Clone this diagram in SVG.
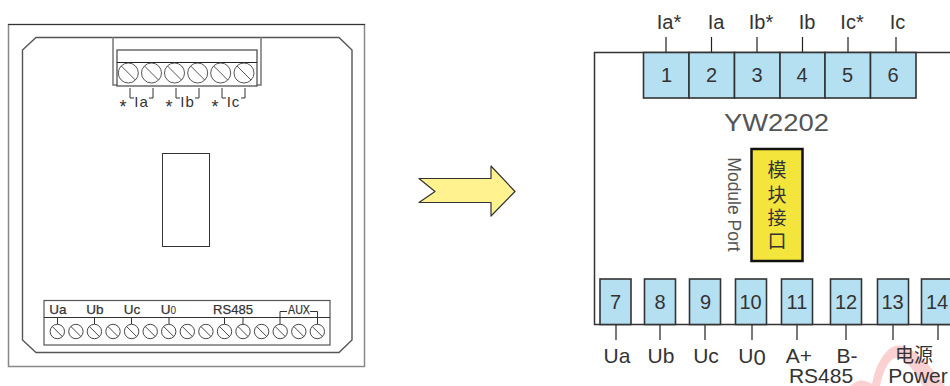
<svg xmlns="http://www.w3.org/2000/svg" xmlns:xlink="http://www.w3.org/1999/xlink" width="950" height="386" viewBox="0 0 950 386">
<style>
text{font-family:"Liberation Sans",Arial,"Noto Sans CJK SC",sans-serif;fill:#333}
.l{fill:none;stroke:#231f20;stroke-width:1.2}
.b{fill:#b5e0f2;stroke:#333;stroke-width:1.6}
.t{font-size:20px;text-anchor:middle}
.u{font-size:21px;text-anchor:middle}
.n{font-size:20px;text-anchor:middle}
.s{font-size:13.5px;text-anchor:middle;fill:#333;stroke:#333;stroke-width:.25}
.m{font-size:15px;text-anchor:middle;letter-spacing:1px}
.a{font-size:18px;text-anchor:middle}
.k{stroke:#333;stroke-width:1;fill:none}
.c{font-size:19px;text-anchor:middle}
</style>
<defs>
<g id="sb"><circle r="10" fill="#fff" stroke="#444" stroke-width=".9"/><path d="M-7-7 7 7" stroke="#444" stroke-width=".9"/></g>
<g id="ss"><circle r="7.200" fill="#fff" stroke="#333" stroke-width=".9"/><path d="M-5-5 5 5" stroke="#333" stroke-width=".9"/></g>
</defs>
<rect width="950" height="386" fill="#fff"/>
<path id="watermark" d="M850 386Q860 376 872 384Q876 362 888 350Q897 342 908 348Q924 356 945 386H923Q912 366 902 359Q894 355 888 364Q882 374 880 386Z" fill="#fbd0d0"/>
<g id="panel">
<rect x="8.500" y="24.500" width="356" height="342" fill="none" stroke="#888" stroke-width="1.500"/>
<path d="M8 24.500H365" stroke="#333" stroke-width="1.200"/>
<path d="M36 37.500H339L352 50V340L339 352.500H36L22.500 340V50Z" fill="none" stroke="#555" stroke-width="1.400"/>
<rect x="162.500" y="153.500" width="47" height="93" fill="#fff" stroke="#333" stroke-width="1"/>
</g>
<g id="top-terminal">
<path d="M113 37V85H117M261 37V85H257" fill="#fff" stroke="#777" stroke-width="1.500"/>
<rect x="117" y="50" width="140" height="36" fill="#fff" stroke="#444" stroke-width="1.200"/>
<path d="M117 62.500H257" stroke="#222" stroke-width="1.100"/>
<use xlink:href="#sb" x="128.300" y="73"/><use xlink:href="#sb" x="151.500" y="73"/><use xlink:href="#sb" x="174.500" y="73"/><use xlink:href="#sb" x="197.700" y="73"/><use xlink:href="#sb" x="220.700" y="73"/><use xlink:href="#sb" x="244" y="73"/>
<path class="k" d="M130 88V98H134M153 88V98H149M176 88V98H180M199 88V98H195M222 88V98H226M245 88V98H241"/>
<text class="a" x="123" y="113">*</text><text class="m" x="141.500" y="107">Ia</text>
<text class="a" x="169" y="113">*</text><text class="m" x="187.500" y="107">Ib</text>
<text class="a" x="215" y="113">*</text><text class="m" x="233.500" y="107">Ic</text>
</g>
<g id="bottom-terminal">
<rect x="44" y="300.500" width="286" height="44.500" fill="#fff" stroke="#555" stroke-width="1.200"/>
<path d="M44 317.500H330" stroke="#333" stroke-width="1.100"/>
<path class="k" d="M57.500 318V324M94.500 318V324M131.500 318V324M169 318V324M224.500 318V324M243 318V324M280 318V324M317.500 318V324M280 317V311.500H287M310 311.500H317.500V317"/>
<use xlink:href="#ss" x="57.300" y="331.500"/><use xlink:href="#ss" x="75.900" y="331.500"/><use xlink:href="#ss" x="94.400" y="331.500"/><use xlink:href="#ss" x="113" y="331.500"/><use xlink:href="#ss" x="131.600" y="331.500"/><use xlink:href="#ss" x="150.200" y="331.500"/><use xlink:href="#ss" x="168.700" y="331.500"/><use xlink:href="#ss" x="187.300" y="331.500"/><use xlink:href="#ss" x="205.900" y="331.500"/><use xlink:href="#ss" x="224.500" y="331.500"/><use xlink:href="#ss" x="243" y="331.500"/><use xlink:href="#ss" x="261.600" y="331.500"/><use xlink:href="#ss" x="280.200" y="331.500"/><use xlink:href="#ss" x="298.800" y="331.500"/><use xlink:href="#ss" x="317.300" y="331.500"/>
<text class="s" x="58" y="314">Ua</text><text class="s" x="95" y="314">Ub</text><text class="s" x="132" y="314">Uc</text><text class="s" x="168.500" y="314">U<tspan font-size="10" stroke-width="0">0</tspan></text><text class="s" x="233" y="314" textLength="40" lengthAdjust="spacingAndGlyphs">RS485</text><text class="s" x="299" y="314" textLength="22" lengthAdjust="spacingAndGlyphs">AUX</text>
</g>
<g id="arrow"><path d="M419 178.500H491V166L515 191.500L491 216V202.500H419L435 191.500Z" fill="#fff28f" stroke="#333" stroke-width="1.200" stroke-linejoin="round"/></g>
<g id="connectors">
<path class="l" d="M666 37V52M711.500 37V52M757 37V52M802.500 37V52M848 37V52M896 37V52M616 325V340M660 325V340M705 325V340M752 325V340M797 325V340M846 325V340M893 325V340M938 325V340"/>
</g>
<g id="device">
<path d="M950 52.500H594.500V324.500H950" fill="none" stroke="#333" stroke-width="1.500"/>
<text x="776.500" y="131" font-size="24" text-anchor="middle" textLength="105" lengthAdjust="spacingAndGlyphs" style="fill:#555">YW2202</text>
<g transform="translate(728 204.500) rotate(90)"><text x="0" y="0" font-size="17.500" text-anchor="middle" style="fill:#555">Module Port</text></g>
</g>
<g id="module-port"><rect x="751.500" y="149" width="51" height="112" fill="#f3e53c" stroke="#111" stroke-width="2.500"/>
<text class="c" x="777" y="177">模</text><text class="c" x="777" y="202">块</text><text class="c" x="777" y="225">接</text><text class="c" x="777" y="248">口</text></g>
<g id="t1"><rect class="b" x="643.500" y="52.500" width="45.500" height="45.500"/><text class="n" x="666.500" y="82">1</text><text class="t" x="669" y="29">Ia*</text></g>
<g id="t2"><rect class="b" x="689" y="52.500" width="45.500" height="45.500"/><text class="n" x="711.500" y="82">2</text><text class="t" x="716" y="29">Ia</text></g>
<g id="t3"><rect class="b" x="734.500" y="52.500" width="45.500" height="45.500"/><text class="n" x="757" y="82">3</text><text class="t" x="761" y="29">Ib*</text></g>
<g id="t4"><rect class="b" x="780" y="52.500" width="45" height="45.500"/><text class="n" x="802" y="82">4</text><text class="t" x="807" y="29">Ib</text></g>
<g id="t5"><rect class="b" x="825" y="52.500" width="45.500" height="45.500"/><text class="n" x="847.500" y="82">5</text><text class="t" x="852" y="29">Ic*</text></g>
<g id="t6"><rect class="b" x="870.500" y="52.500" width="45.500" height="45.500"/><text class="n" x="893" y="82">6</text><text class="t" x="897.500" y="29">Ic</text></g>
<g id="t7"><rect class="b" x="600" y="279" width="31" height="45.500"/><text class="n" x="615.500" y="309">7</text><text class="u" x="617" y="362.500">Ua</text></g>
<g id="t8"><rect class="b" x="644.500" y="279" width="31" height="45.500"/><text class="n" x="660" y="309">8</text><text class="u" x="661" y="362.500">Ub</text></g>
<g id="t9"><rect class="b" x="689.500" y="279" width="31" height="45.500"/><text class="n" x="705.500" y="309">9</text><text class="u" x="706" y="362.500">Uc</text></g>
<g id="t10"><rect class="b" x="735.500" y="279" width="31" height="45.500"/><text class="n" x="750.500" y="309">10</text><text class="u" x="752" y="362.500">U<tspan font-size="22" dy="2">0</tspan></text></g>
<g id="t11"><rect class="b" x="781.500" y="279" width="31" height="45.500"/><text class="n" x="797" y="309">11</text><text class="u" x="799" y="362.500">A+</text></g>
<g id="t12"><rect class="b" x="830.500" y="279" width="31" height="45.500"/><text class="n" x="846" y="309">12</text><text class="u" x="847" y="362.500">B-</text></g>
<g id="t13"><rect class="b" x="877.500" y="279" width="31" height="45.500"/><text class="n" x="892.500" y="309">13</text><text class="c" x="914" y="362">电源</text></g>
<g id="t14"><rect class="b" x="921.500" y="279" width="31" height="45.500"/><text class="n" x="937" y="309">14</text></g>
<text class="u" x="821" y="382.500">RS485</text>
<text class="u" x="918" y="382.500">Power</text>
</svg>
